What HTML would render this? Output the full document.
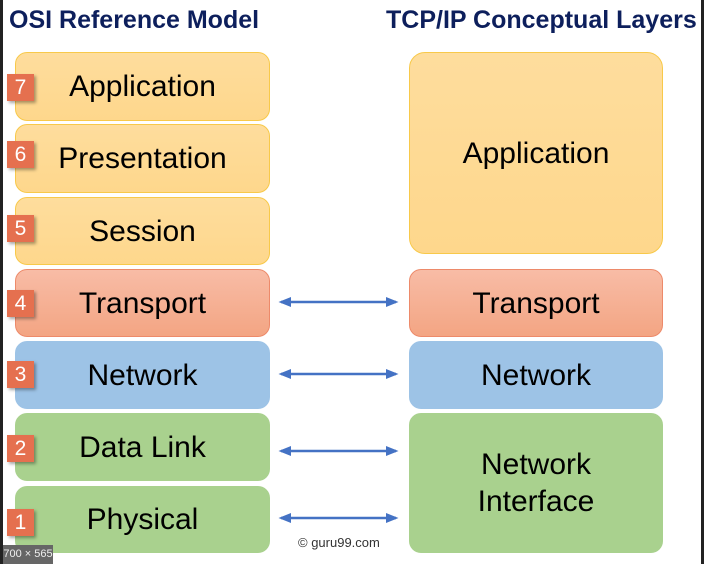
<!DOCTYPE html>
<html><head><style>
body{margin:0;width:704px;height:564px;background:#fff;position:relative;overflow:hidden;font-family:"Liberation Sans",sans-serif}
.b{position:absolute;box-sizing:border-box;border-radius:12px;display:flex;align-items:center;justify-content:center;font-size:30px;color:#000;text-align:center;line-height:37px}
.y{background:linear-gradient(#fedd9d,#fed78c);border:1.5px solid #f8c94a}
.o{background:linear-gradient(#f8bca6,#f3a583);border:1.5px solid #ed8a6a}
.bl{background:#9dc3e6;border:1px solid #9dc3e6}
.g{background:#a9d18e;border:1px solid #a9d18e}
.n{position:absolute;left:7px;width:27px;height:27px;background:#e5704f;color:#fff;font-size:21px;display:flex;align-items:center;justify-content:center;box-shadow:2px 2px 3px rgba(0,0,0,.35)}
h1{position:absolute;margin:0;top:6px;font-size:25px;color:#0d1f5c;font-weight:bold;white-space:nowrap}
</style></head><body>
<div style="position:absolute;left:0;top:0;width:3px;height:564px;background:#222"></div>
<div style="position:absolute;right:0;top:0;width:3px;height:564px;background:#222"></div>
<h1 style="left:9px">OSI Reference Model</h1>
<h1 style="left:386px">TCP/IP Conceptual Layers</h1>
<div class="b y" style="left:15px;top:52px;width:255px;height:69px">Application</div>
<div class="b y" style="left:15px;top:124px;width:255px;height:69px">Presentation</div>
<div class="b y" style="left:15px;top:197px;width:255px;height:68px">Session</div>
<div class="b o" style="left:15px;top:269px;width:255px;height:68px">Transport</div>
<div class="b bl" style="left:15px;top:341px;width:255px;height:68px">Network</div>
<div class="b g" style="left:15px;top:413px;width:255px;height:68px">Data Link</div>
<div class="b g" style="left:15px;top:486px;width:255px;height:67px">Physical</div>
<div class="n" style="top:74px">7</div>
<div class="n" style="top:141px">6</div>
<div class="n" style="top:215px">5</div>
<div class="n" style="top:290px">4</div>
<div class="n" style="top:361px">3</div>
<div class="n" style="top:435px">2</div>
<div class="n" style="top:509px">1</div>
<div class="b y" style="left:409px;top:52px;width:254px;height:202px;border-radius:16px">Application</div>
<div class="b o" style="left:409px;top:269px;width:254px;height:68px">Transport</div>
<div class="b bl" style="left:409px;top:341px;width:254px;height:68px">Network</div>
<div class="b g" style="left:409px;top:413px;width:254px;height:140px">Network<br>Interface</div>
<svg style="position:absolute;left:0;top:0" width="704" height="564">
<defs><marker id="a" markerWidth="5" markerHeight="4" refX="4" refY="2" orient="auto-start-reverse"><path d="M0,0L5,2L0,4z" fill="#4472c4"/></marker></defs>
<g stroke="#4472c4" stroke-width="2.5" marker-start="url(#a)" marker-end="url(#a)">
<line x1="281" y1="302" x2="396" y2="302"/>
<line x1="281" y1="374" x2="396" y2="374"/>
<line x1="281" y1="451" x2="396" y2="451"/>
<line x1="281" y1="518" x2="396" y2="518"/>
</g></svg>
<div style="position:absolute;left:298px;top:535px;font-size:13px;color:#333">© guru99.com</div>
<div style="position:absolute;left:3px;top:545px;width:50px;height:19px;background:#666;color:#eee;font-size:11px;line-height:19px;text-align:center">700 × 565</div>
</body></html>
